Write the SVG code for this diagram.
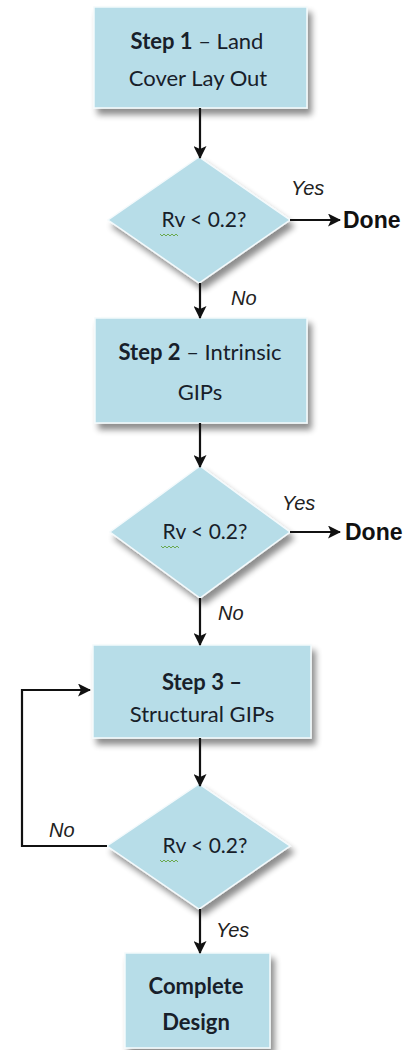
<svg xmlns="http://www.w3.org/2000/svg" width="417" height="1050" viewBox="0 0 417 1050">
<defs>
<filter id="sh" x="-20%" y="-20%" width="150%" height="160%">
<feGaussianBlur in="SourceAlpha" stdDeviation="3"/>
<feOffset dx="4" dy="6" result="b"/>
<feComponentTransfer><feFuncA type="linear" slope="0.45"/></feComponentTransfer>
<feMerge><feMergeNode/><feMergeNode in="SourceGraphic"/></feMerge>
</filter>
<marker id="ah" viewBox="0 0 13 13" refX="12" refY="6.5" markerWidth="13" markerHeight="13" markerUnits="userSpaceOnUse" orient="auto">
<path d="M0,0 L13,6.5 L0,13 L3,6.5 Z" fill="#111"/>
</marker>
</defs>
<style>
.n{fill:#b7dde8;stroke:#f4fafc;stroke-width:1.5;filter:url(#sh)}
.bt{font-family:Lato,"Open Sans",sans-serif;font-size:22px;fill:#17202a;text-anchor:middle}
.b{font-weight:bold}
.dt{font-family:Lato,"Open Sans",sans-serif;font-size:21px;fill:#17202a;text-anchor:middle}
.lab{font-family:"Liberation Sans",Arial,sans-serif;font-size:20px;font-style:italic;fill:#222}
.done{font-family:"Liberation Sans",Arial,sans-serif;font-size:23px;font-weight:bold;fill:#111}
.c{fill:none;stroke:#111;stroke-width:2.2}
.w{fill:none;stroke:#6aa84f;stroke-width:1}
</style>
<rect width="417" height="1050" fill="#fff"/>
<g id="step1">
<rect class="n" x="94" y="7" width="213" height="101"/>
<text class="bt" x="197" y="49"><tspan class="b">Step 1</tspan> – Land</text>
<text class="bt" x="198" y="86">Cover Lay Out</text>
</g>
<g id="dec1">
<polygon class="n" points="199,157 290,220 199,283 108,220"/>
<text class="dt" x="204" y="227">Rv &lt; 0.2?</text>
<path class="w" d="M160,234 l2,2 l2,-2 l2,2 l2,-2 l2,2 l2,-2 l2,2 l2,-2 l2,2"/>
</g>
<g id="done1"><text class="done" x="343" y="228">Done</text></g>
<g id="step2">
<rect class="n" x="95" y="318" width="212" height="105"/>
<text class="bt" x="200" y="360"><tspan class="b">Step 2</tspan> – Intrinsic</text>
<text class="bt" x="200" y="400">GIPs</text>
</g>
<g id="dec2">
<polygon class="n" points="200,466 290,532 200,598 110,532"/>
<text class="dt" x="205" y="539">Rv &lt; 0.2?</text>
<path class="w" d="M161,546 l2,2 l2,-2 l2,2 l2,-2 l2,2 l2,-2 l2,2 l2,-2 l2,2"/>
</g>
<g id="done2"><text class="done" x="345" y="540">Done</text></g>
<g id="step3">
<rect class="n" x="93" y="645" width="218" height="93"/>
<text class="bt b" x="202" y="690">Step 3 –</text>
<text class="bt" x="202" y="722">Structural GIPs</text>
</g>
<g id="dec3">
<polygon class="n" points="199,784 290,846 199,909 107,846"/>
<text class="dt" x="205" y="853">Rv &lt; 0.2?</text>
<path class="w" d="M160,860 l2,2 l2,-2 l2,2 l2,-2 l2,2 l2,-2 l2,2 l2,-2 l2,2"/>
</g>
<g id="step4">
<rect class="n" x="125" y="953" width="145" height="95"/>
<text class="bt b" x="196" y="994">Complete</text>
<text class="bt b" x="196" y="1030">Design</text>
</g>
<g id="connectors">
<line class="c" x1="200" y1="108" x2="200" y2="158" marker-end="url(#ah)"/>
<line class="c" x1="290" y1="220" x2="340" y2="220" marker-end="url(#ah)"/>
<line class="c" x1="200" y1="283" x2="200" y2="318" marker-end="url(#ah)"/>
<line class="c" x1="200" y1="423" x2="200" y2="467" marker-end="url(#ah)"/>
<line class="c" x1="290" y1="532" x2="340" y2="532" marker-end="url(#ah)"/>
<line class="c" x1="200" y1="598" x2="200" y2="645" marker-end="url(#ah)"/>
<line class="c" x1="200" y1="738" x2="200" y2="786" marker-end="url(#ah)"/>
<polyline class="c" points="107,846 22,846 22,690 90,690" marker-end="url(#ah)"/>
<line class="c" x1="200" y1="909" x2="200" y2="953" marker-end="url(#ah)"/>
<text class="lab" x="291" y="195">Yes</text>
<text class="lab" x="231" y="305">No</text>
<text class="lab" x="282" y="510">Yes</text>
<text class="lab" x="218" y="620">No</text>
<text class="lab" x="49" y="837">No</text>
<text class="lab" x="216" y="937">Yes</text>
</g>
</svg>
